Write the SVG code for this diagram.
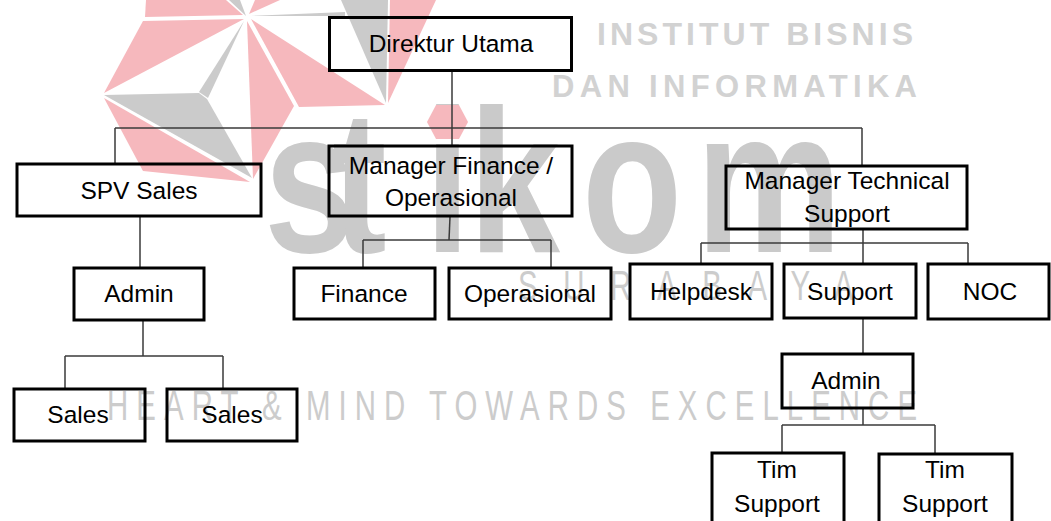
<svg xmlns="http://www.w3.org/2000/svg" width="1051" height="521" viewBox="0 0 1051 521">
<style>
.pk{fill:#f6b8bd}
.gr{fill:#cbcbcb}
.wm{fill:#d2d2d2;font-family:"Liberation Sans",Arial,sans-serif;font-weight:bold}
.wl{fill:#cccccc;font-family:"Liberation Sans",Arial,sans-serif}
.box{fill:none;stroke:#000;stroke-width:3}
.lbl{font-family:"Liberation Sans",Arial,sans-serif;font-size:24.5px;fill:#000;text-anchor:middle}
#connectors line{stroke:#3a3a3a;stroke-width:1.5}
</style>
<rect width="1051" height="521" fill="#fff"/>
<g id="watermark">
  <polygon class="pk" points="146,0 226,0 243,15 145,17"/>
  <polygon class="gr" points="229,0 240,0 246,16"/>
  <polygon class="pk" points="255,0 280,0 249,14"/>
  <polygon class="pk" points="143,21 244,19 104,93"/>
  <polygon class="gr" points="104,95 199,93 207,99 252,178"/>
  <polygon class="gr" points="199,92 244,21 208,98"/>
  <polygon class="pk" points="104,98 250,182 143,171"/>
  <polygon class="pk" points="247,21 294,106 253,179"/>
  <polygon class="pk" points="251,19 385,105 299,107"/>
  <polygon class="gr" points="341,0 388,0 386,103"/>
  <polygon class="gr" points="251,16 345,12 345,16"/>
  <polygon class="pk" points="390,0 436,0 388,103"/>
  <text class="wm" x="597" y="45" font-size="32" textLength="316" lengthAdjust="spacing">INSTITUT BISNIS</text>
  <text class="wm" x="552" y="97" font-size="31" textLength="365" lengthAdjust="spacing">DAN INFORMATIKA</text>
  <text transform="translate(0,252) scale(0.8,1)" x="330 415 531 586 727.5 870" y="0" font-family="Liberation Sans, Arial, sans-serif" font-weight="bold" font-size="205" fill="#cacaca">stikom</text>
  <polygon class="pk" points="427,122 436,105 459,105 468,122 459,139 436,139"/>
  <text class="wl" transform="translate(0,300) scale(0.7,1)" x="740" y="0" font-size="42" textLength="479" lengthAdjust="spacing">SURABAYA</text>
  <text class="wl" transform="translate(0,420) scale(0.7,1)" x="153" y="0" font-size="42" textLength="1157" lengthAdjust="spacing">HEART &amp; MIND TOWARDS EXCELLENCE</text>
</g>
<g id="connectors">
  <line x1="452" y1="71" x2="452" y2="146"/>
  <line x1="115" y1="128" x2="862" y2="128"/>
  <line x1="115" y1="128" x2="115" y2="164"/>
  <line x1="862" y1="128" x2="862" y2="166"/>
  <line x1="140" y1="217" x2="140" y2="268"/>
  <line x1="450" y1="217" x2="449" y2="240"/>
  <line x1="363" y1="240" x2="551" y2="240"/>
  <line x1="363" y1="240" x2="363" y2="268"/>
  <line x1="551" y1="240" x2="551" y2="268"/>
  <line x1="863" y1="230" x2="863" y2="264"/>
  <line x1="701" y1="243" x2="968" y2="243"/>
  <line x1="701" y1="243" x2="701" y2="264"/>
  <line x1="968" y1="243" x2="968" y2="264"/>
  <line x1="863" y1="318" x2="863" y2="354"/>
  <line x1="863" y1="408" x2="863" y2="425"/>
  <line x1="782" y1="425" x2="935" y2="425"/>
  <line x1="782" y1="425" x2="782" y2="453"/>
  <line x1="935" y1="425" x2="935" y2="454"/>
  <line x1="143" y1="320" x2="143" y2="356"/>
  <line x1="65" y1="356" x2="223" y2="356"/>
  <line x1="65" y1="356" x2="65" y2="389"/>
  <line x1="223" y1="356" x2="223" y2="389"/>
</g>
<g id="direktur-utama"><rect class="box" x="329.5" y="17.5" width="242" height="53"/><text class="lbl" x="451" y="52">Direktur Utama</text></g>
<g id="spv-sales"><rect class="box" x="17" y="164" width="244" height="52"/><text class="lbl" x="139" y="199">SPV Sales</text></g>
<g id="manager-finance"><rect class="box" x="329" y="146" width="243" height="70"/><text class="lbl" x="451" y="174">Manager Finance /</text><text class="lbl" x="451" y="206">Operasional</text></g>
<g id="manager-technical"><rect class="box" x="726" y="166" width="241" height="63"/><text class="lbl" x="847" y="189">Manager Technical</text><text class="lbl" x="847" y="222">Support</text></g>
<g id="admin-sales"><rect class="box" x="74" y="268" width="130" height="52"/><text class="lbl" x="139" y="302">Admin</text></g>
<g id="finance"><rect class="box" x="294" y="268" width="141" height="51"/><text class="lbl" x="364" y="302">Finance</text></g>
<g id="operasional"><rect class="box" x="449" y="268" width="162" height="51"/><text class="lbl" x="530" y="302">Operasional</text></g>
<g id="helpdesk"><rect class="box" x="630" y="264" width="142" height="55"/><text class="lbl" x="701" y="300">Helpdesk</text></g>
<g id="support"><rect class="box" x="784" y="264" width="132" height="54"/><text class="lbl" x="850" y="300">Support</text></g>
<g id="noc"><rect class="box" x="928" y="264" width="121" height="55"/><text class="lbl" x="990" y="300">NOC</text></g>
<g id="sales-1"><rect class="box" x="14" y="389" width="131" height="52"/><text class="lbl" x="78" y="423">Sales</text></g>
<g id="sales-2"><rect class="box" x="167" y="389" width="130" height="52"/><text class="lbl" x="232" y="423">Sales</text></g>
<g id="admin-support"><rect class="box" x="782" y="354" width="131" height="54"/><text class="lbl" x="846" y="389">Admin</text></g>
<g id="tim-support-1"><rect class="box" x="712" y="453" width="132" height="80"/><text class="lbl" x="777" y="478">Tim</text><text class="lbl" x="777" y="512">Support</text></g>
<g id="tim-support-2"><rect class="box" x="879" y="454" width="133" height="80"/><text class="lbl" x="945" y="478">Tim</text><text class="lbl" x="945" y="512">Support</text></g>
</svg>
